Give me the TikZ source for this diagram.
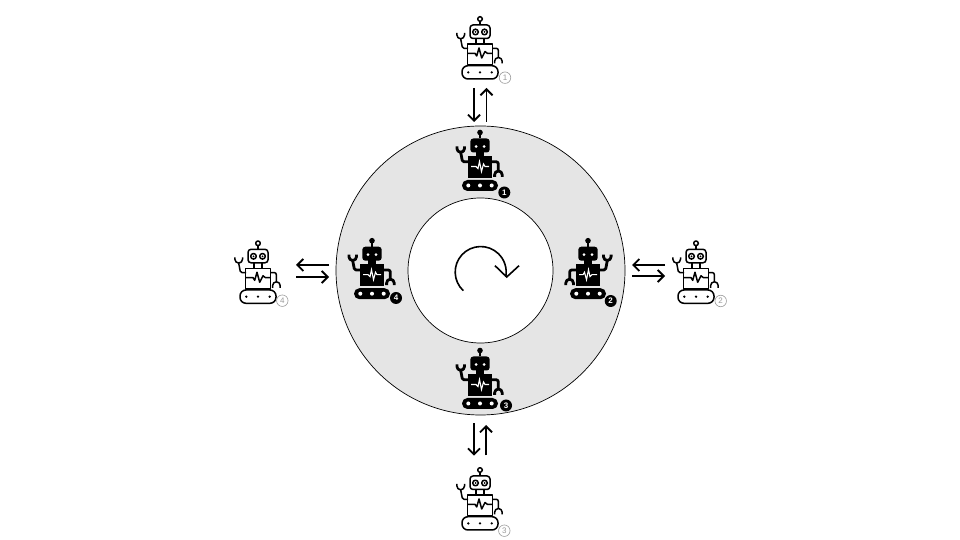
\documentclass[tikz,border=0pt]{standalone}
\usepackage{fontspec}
\setsansfont{Liberation Sans}
\usetikzlibrary{arrows.meta}

\definecolor{ringgrey}{HTML}{E5E5E5}
\definecolor{badgegrey}{HTML}{9A9A9A}

\newcommand{\robotarms}{
    \draw[rounded corners=1.5pt] (-12,6.7) -- (-17.5,6.7) -- (-19.3,16);
    \draw (-23.1,22) -- (-23.1,20) arc (180:360:3.8) -- (-15.5,22);
    \draw[rounded corners=2pt] (12,6.7) -- (18.3,6.7) -- (18.3,-2.3);
    \draw (14.6,-8.5) -- (14.6,-6.3) arc (180:0:3.8) -- (22.2,-8.5);
}

\tikzset{
  flow/.style={line width=1.8pt,-{Straight Barb[length=6pt,width=12pt,line width=1.8pt]}},
  badgein/.style={circle,fill=black,text=white,inner sep=0pt,minimum size=12pt,font=\sffamily\bfseries\fontsize{8}{8}\selectfont},
  badgeout/.style={circle,draw=badgegrey,fill=white,text=badgegrey,line width=.6pt,inner sep=0pt,minimum size=11.5pt,font=\sffamily\fontsize{8}{8}\selectfont},
  robotout/.pic={
    \begin{scope}[line width=1.5pt,line join=round]
    \robotarms
    \draw (0,30) -- (0,33.5);
    \draw (0,36) circle (2.3);
    \draw[rounded corners=3pt] (-10,16.5) rectangle (10,30);
    \draw (-4.5,23) circle (2.8);
    \draw (4.5,23) circle (2.8);
    \fill (-4.5,23) circle (1);
    \fill (4.5,23) circle (1);
    \draw (-4,16.5) -- (-4,11);
    \draw (4,16.5) -- (4,11);
    \draw (-12.5,11) rectangle (12.5,-9.5);
    \draw (-12.3,1.7) -- (-5,1.7) -- (-3.3,-1) -- (-1,7) -- (1.7,-3) -- (5,3.5) -- (7.3,1.7) -- (12,1.7);
    \draw[fill=white,rounded corners=6pt] (-18,-10.7) rectangle (18,-24);
    \end{scope}
    \foreach \x in {-11.7,0,11.7}{
    \fill (\x,-17.4) circle (1.3);}
  },
  robotin/.pic={
    \begin{scope}[line width=2.8pt,line join=round]
    \robotarms
    \draw (0,30) -- (0,35);
    \fill (0,36) circle (2.8);
    \fill[rounded corners=3pt] (-9.7,16) rectangle (9.7,30);
    \fill (-4,16.5) rectangle (4,12);
    \fill (-12,12.5) rectangle (12,-9.5);
    \fill[rounded corners=5.4pt] (-18,-11.5) rectangle (18,-22.5);
    \end{scope}
    \fill[white] (-4,22) circle (1.5);
    \fill[white] (4,22) circle (1.5);
    \draw[white,line width=1.1pt] (-9,2) -- (-4,2) -- (-2,0) -- (-.5,7) -- (1.5,-3) -- (3.5,4.5) -- (5,2) -- (9,2);
    \foreach \x in {-11.7,0,11.7}{
    \fill[white] (\x,-17) circle (2);}
  },
}

\begin{document}
\begin{tikzpicture}[x=1pt,y=1pt]

\useasboundingbox (0,0) rectangle (960,540);

% ring
\coordinate (centre) at (480.5,269.5);
\draw[fill=ringgrey,line width=.7pt] (centre) circle (144.5);
\draw[fill=white,line width=.7pt] (centre) circle (72.5);

% turning arrow
\coordinate (turn) at (463.3,249.3);
\draw[line width=1.6pt] (turn) arc (227:-11:25.5);
\draw[line width=1.6pt,line join=miter] (495,274.3) -- (506.7,263) -- (519,274.3);

% robots on the ring
\pic at (480,371.5) {robotin};
\pic[xscale=-1] at (588,263.3) {robotin};
\pic at (480,153.5) {robotin};
\pic at (372,263.3) {robotin};

% robots outside
\pic at (480,485) {robotout};
\pic at (696,260.7) {robotout};
\pic at (480,34) {robotout};
\pic at (258,260.7) {robotout};

% numbers
\node[badgein] (in1) at (504.3,347.5) {1};
\node[badgein] (in2) at (610.7,239) {2};
\node[badgein] (in3) at (506,134.5) {3};
\node[badgein] (in4) at (396,242) {4};
\node[badgeout] (out1) at (505,462.3) {1};
\node[badgeout] (out2) at (720.7,239) {2};
\node[badgeout] (out3) at (504.3,9.3) {3};
\node[badgeout] (out4) at (282.3,239.3) {4};

% arrows
\coordinate (a1) at (474,452);
\coordinate (a2) at (474,418);
\coordinate (a3) at (486.5,418);
\coordinate (a4) at (486.5,452);
\draw[flow] (a1) -- (a2);
\draw[flow] (a3) -- (a4);

\coordinate (b1) at (665,275);
\coordinate (b2) at (632,275);
\coordinate (b3) at (632,264);
\coordinate (b4) at (665,264);
\draw[flow] (b1) -- (b2);
\draw[flow] (b3) -- (b4);

\coordinate (c1) at (474,116.7);
\coordinate (c2) at (474,84.3);
\coordinate (c3) at (486,84.5);
\coordinate (c4) at (486,115);
\draw[flow] (c1) -- (c2);
\draw[flow] (c3) -- (c4);

\coordinate (d1) at (329,275);
\coordinate (d2) at (296,275);
\coordinate (d3) at (296,263);
\coordinate (d4) at (329,263);
\draw[flow] (d1) -- (d2);
\draw[flow] (d3) -- (d4);

\end{tikzpicture}
\end{document}
